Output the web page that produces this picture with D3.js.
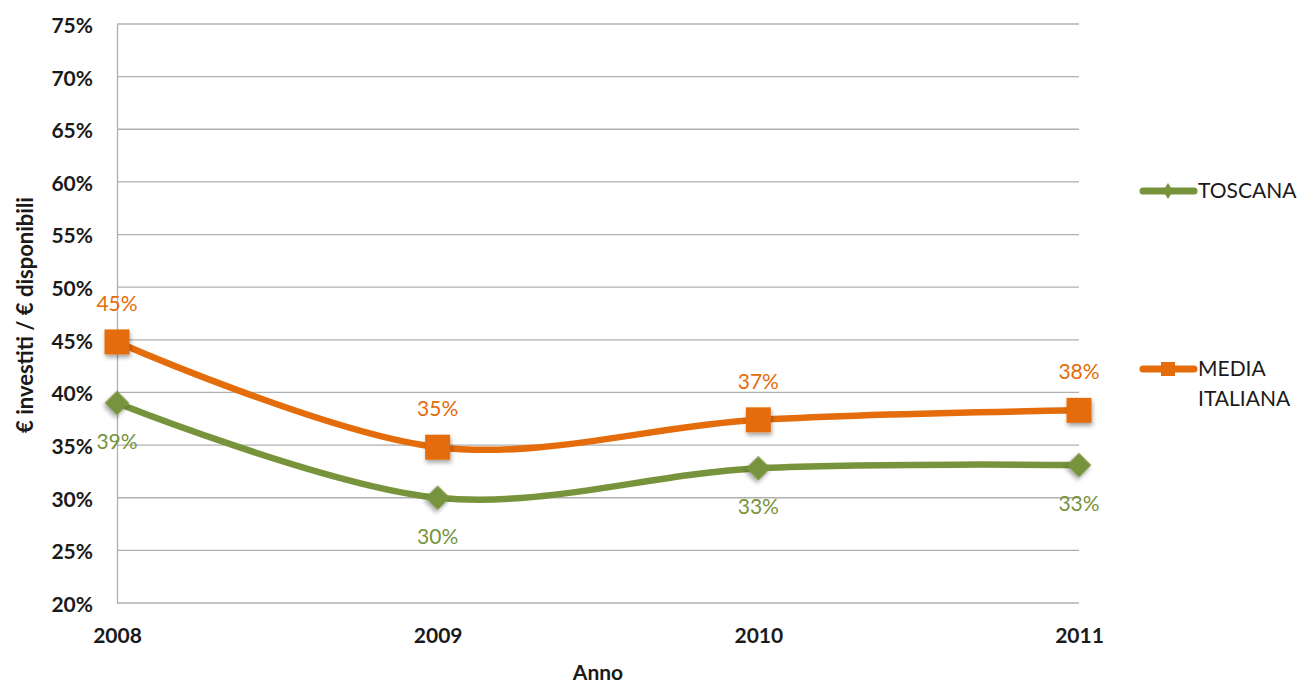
<!DOCTYPE html>
<html>
<head>
<meta charset="utf-8">
<script src="https://cdnjs.cloudflare.com/ajax/libs/d3/7.8.5/d3.min.js"></script>
<style>
  body { margin: 0; background: #fff; }
  text { font-family: Lato, "Open Sans", sans-serif; }
</style>
</head>
<body>
<svg id="chart"></svg>
<script>
// Chart data
let years = ['2008', '2009', '2010', '2011'];
let toscana = [39.0, 30.0, 32.8, 33.1];
let mediaItaliana = [44.8, 34.8, 37.4, 38.3];
let yTicks = [20, 25, 30, 35, 40, 45, 50, 55, 60, 65, 70, 75];

// SVG dimensions
let width = 1301, height = 686;
let plotLeft = 117, plotRight = 1079, plotTop = 24, plotBottom = 603;
let fontSize = 21;

let svg = d3.select('#chart')
    .attr('width', width)
    .attr('height', height);

let defs = svg.append('defs');
let shadow = defs.append('filter').attr('id', 'shadow')
    .attr('x', '-50%').attr('y', '-50%').attr('width', '200%').attr('height', '200%');
shadow.append('feDropShadow')
    .attr('dx', 1).attr('dy', 3).attr('stdDeviation', 2)
    .attr('flood-color', '#000').attr('flood-opacity', 0.35);

// Scales
let xScale = d3.scalePoint().domain(years).range([plotLeft, plotRight]);
let yScale = d3.scaleLinear().domain([20, 75]).range([plotBottom, plotTop]);

// Gridlines
svg.append('g')
    .selectAll('line')
    .data(yTicks)
    .enter()
    .append('line')
    .attr('x1', plotLeft).attr('x2', plotRight)
    .attr('y1', d => yScale(d)).attr('y2', d => yScale(d))
    .attr('stroke', '#b0b0b0')
    .attr('stroke-width', 1.3);

// Y axis
let yAxis = d3.axisLeft(yScale).tickValues(yTicks).tickSize(0).tickPadding(24)
    .tickFormat(d => d + '%');
let yG = svg.append('g').attr('transform', `translate(${plotLeft}, 0)`).call(yAxis);
yG.select('.domain').attr('stroke', '#b0b0b0').attr('stroke-width', 1.3);
yG.selectAll('text')
    .attr('font-size', fontSize).attr('font-weight', 'bold').attr('fill', '#1a1a1a')
    .attr('dy', '0.4em')
    .style('font-family', 'Lato, sans-serif');

// X axis
let xAxis = d3.axisBottom(xScale).tickSize(0).tickPadding(25);
let xG = svg.append('g').attr('transform', `translate(0, ${plotBottom})`).call(xAxis);
xG.select('.domain').remove();
xG.selectAll('text')
    .attr('font-size', fontSize).attr('font-weight', 'bold').attr('fill', '#1a1a1a')
    .style('font-family', 'Lato, sans-serif');

// Axis titles
svg.append('text')
    .attr('x', 598).attr('y', 680)
    .attr('text-anchor', 'middle')
    .attr('font-size', fontSize).attr('font-weight', 'bold').attr('fill', '#1a1a1a')
    .text('Anno');

svg.append('text')
    .attr('transform', 'translate(33, 315) rotate(-90)')
    .attr('text-anchor', 'middle')
    .attr('font-size', 22).attr('font-weight', 'bold').attr('fill', '#1a1a1a')
    .text('€ investiti / € disponibili');

// Series
let series = [
    { name: 'TOSCANA', values: toscana, color: '#77933C', shape: 'diamond', labelDy: 46 },
    { name: 'MEDIA ITALIANA', values: mediaItaliana, color: '#E46C0A', shape: 'square', labelDy: -31 }
];

let line = d3.line()
    .x((d, i) => xScale(years[i]))
    .y(d => yScale(d))
    .curve(d3.curveCatmullRom.alpha(0.5));

series.forEach(s => {
    let g = svg.append('g');

    g.append('path')
        .datum(s.values)
        .attr('d', line)
        .attr('fill', 'none')
        .attr('stroke', s.color)
        .attr('stroke-width', 6.5)
        .attr('stroke-linejoin', 'round')
        .attr('stroke-linecap', 'round');

    let sym = s.shape === 'square'
        ? d3.symbol().type(d3.symbolSquare).size(625)
        : d3.symbol().type(d3.symbolSquare).size(300);

    g.selectAll('path.marker')
        .data(s.values)
        .enter()
        .append('path')
        .attr('class', 'marker')
        .attr('d', sym)
        .attr('transform', (d, i) => `translate(${xScale(years[i])}, ${yScale(d)})` +
            (s.shape === 'diamond' ? ' rotate(45)' : ''))
        .attr('fill', s.color)
        .attr('filter', 'url(#shadow)');

    g.selectAll('text.label')
        .data(s.values)
        .enter()
        .append('text')
        .attr('class', 'label')
        .attr('x', (d, i) => xScale(years[i]))
        .attr('y', d => yScale(d) + s.labelDy)
        .attr('text-anchor', 'middle')
        .attr('font-size', fontSize)
        .attr('fill', s.color)
        .text(d => Math.round(d) + '%');
});

// Legend
let legend = [
    { lines: ['TOSCANA'], color: '#77933C', shape: 'diamond', y: 191 },
    { lines: ['MEDIA', 'ITALIANA'], color: '#E46C0A', shape: 'square', y: 369 }
];

legend.forEach(l => {
    let g = svg.append('g');
    g.append('line')
        .attr('x1', 1143).attr('x2', 1194)
        .attr('y1', l.y).attr('y2', l.y)
        .attr('stroke', l.color).attr('stroke-width', 7)
        .attr('stroke-linecap', 'round');
    if (l.shape === 'square') {
        g.append('rect')
            .attr('x', 1161).attr('y', l.y - 7)
            .attr('width', 14).attr('height', 14)
            .attr('fill', l.color);
    } else {
        g.append('path')
            .attr('d', 'M0,-8L5,0L0,8L-5,0Z')
            .attr('transform', `translate(1168, ${l.y})`)
            .attr('fill', l.color);
    }
    l.lines.forEach((t, i) => {
        g.append('text')
            .attr('x', 1198).attr('y', l.y + 7 + i * 30)
            .attr('font-size', fontSize).attr('fill', '#1a1a1a')
            .text(t);
    });
});
</script>
</body>
</html>
